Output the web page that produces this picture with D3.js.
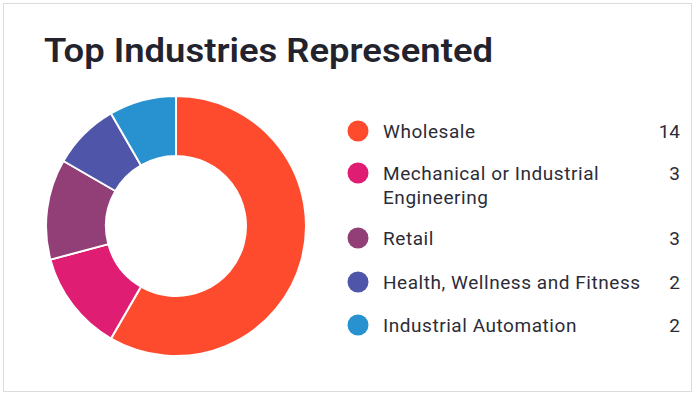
<!DOCTYPE html>
<html><head><meta charset="utf-8">
<script src="https://cdn.jsdelivr.net/npm/d3@7"></script>
<style>
html,body{margin:0;padding:0;background:#fff;}
svg{display:block;font-family:Roboto,"Noto Sans",sans-serif;}
</style></head>
<body>
<svg id="c" width="695" height="395"></svg>
<script>
const categories = ["Wholesale", "Mechanical or Industrial Engineering", "Retail", "Health, Wellness and Fitness", "Industrial Automation"];
const labelLines = [["Wholesale"], ["Mechanical or Industrial", "Engineering"], ["Retail"], ["Health, Wellness and Fitness"], ["Industrial Automation"]];
const values = [14, 3, 3, 2, 2];
const colors = ["#FF4B2D", "#DE1D73", "#923F78", "#4F55A8", "#2891CF"];
const title = "Top Industries Represented";

const svg = d3.select("#c");
svg.append("rect").attr("x",3.5).attr("y",3.5).attr("width",688).attr("height",388)
  .attr("fill","#fff").attr("stroke","#dcdcdc").attr("stroke-width",1);

svg.append("text").attr("x",44).attr("y",62).text(title)
  .attr("font-size",34).attr("font-weight",600).attr("fill","#23232e")
  .attr("textLength",449).attr("lengthAdjust","spacingAndGlyphs");

const cx=176, cy=226, rOut=130, rIn=70;
const pie = d3.pie().sort(null).value(d=>d);
const arc = d3.arc().innerRadius(rIn).outerRadius(rOut);
const g = svg.append("g").attr("transform",`translate(${cx},${cy})`);
g.selectAll("path").data(pie(values)).join("path")
  .attr("d",arc).attr("fill",(d,i)=>colors[i])
  .attr("stroke","#fff").attr("stroke-width",2);

const rowsY = [131, 173, 238, 282, 325];
const lg = svg.append("g");
categories.forEach((c,i)=>{
  const row = lg.append("g").attr("transform",`translate(0,${rowsY[i]})`);
  row.append("circle").attr("cx",358).attr("cy",0).attr("r",10.5).attr("fill",colors[i]);
  const t = row.append("text").attr("x",383).attr("y",6.5).attr("font-size",19)
    .attr("fill","#2c2c38").attr("letter-spacing",0.55);
  labelLines[i].forEach((l,j)=>{
    t.append("tspan").attr("x",383).attr("dy",j===0?0:24.5).text(l);
  });
  row.append("text").attr("x",680).attr("y",6.5).attr("font-size",19)
    .attr("text-anchor","end").attr("fill","#2c2c38").text(values[i]);
});
</script>
</body></html>
